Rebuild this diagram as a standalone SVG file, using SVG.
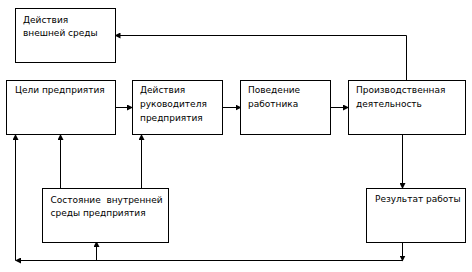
<svg xmlns="http://www.w3.org/2000/svg" width="472" height="272" viewBox="0 0 472 272">
<style>
rect.b{fill:#fff;stroke:#000;stroke-width:1}
text{font-family:"DejaVu Sans",Verdana,sans-serif;font-size:9px;fill:#000}
.c{fill:none;stroke:#000;stroke-width:1}
</style>
<defs>
<marker id="ah" markerWidth="6" markerHeight="6" refX="5" refY="3" orient="auto" markerUnits="userSpaceOnUse">
<path d="M0,0 L6,3 L0,6 Z" fill="#000"/>
</marker>
</defs>
<rect width="472" height="272" fill="#fff"/>
<g id="connectors">
<path class="c" d="M406.5,80 V35.5 H115.5" marker-end="url(#ah)"/>
<path class="c" d="M115.5,107.5 H132" marker-end="url(#ah)"/>
<path class="c" d="M222.5,107.5 H240.5" marker-end="url(#ah)"/>
<path class="c" d="M330.5,107.5 H348" marker-end="url(#ah)"/>
<path class="c" d="M402.5,134.5 V188" marker-end="url(#ah)"/>
<path class="c" d="M402.5,242 V260.5" marker-end="url(#ah)"/>
<path class="c" d="M402.5,260.5 H16" marker-end="url(#ah)"/>
<path class="c" d="M15.5,260.5 V135" marker-end="url(#ah)"/>
<path class="c" d="M96.5,260.5 V242" marker-end="url(#ah)"/>
<path class="c" d="M60.5,188 V135" marker-end="url(#ah)"/>
<path class="c" d="M141.5,188 V135" marker-end="url(#ah)"/>
</g>
<g id="n-vneshnyaya">
<rect class="b" x="15.5" y="8.5" width="100" height="54"/>
<text x="23" y="23">Действия</text>
<text x="23" y="36">внешней среды</text>
</g>
<g id="n-celi">
<rect class="b" x="6.5" y="80.5" width="109" height="54"/>
<text x="15" y="93">Цели предприятия</text>
</g>
<g id="n-rukovoditel">
<rect class="b" x="132.5" y="80.5" width="90" height="54"/>
<text x="140" y="93">Действия</text>
<text x="140" y="107">руководителя</text>
<text x="140" y="121">предприятия</text>
</g>
<g id="n-povedenie">
<rect class="b" x="240.5" y="80.5" width="90" height="54"/>
<text x="248" y="93">Поведение</text>
<text x="248" y="107">работника</text>
</g>
<g id="n-proizvodstvo">
<rect class="b" x="348.5" y="80.5" width="117" height="54"/>
<text x="356" y="93">Производственная</text>
<text x="356" y="107">деятельность</text>
</g>
<g id="n-sostoyanie">
<rect class="b" x="42.5" y="188.5" width="126" height="54"/>
<text x="50.5" y="203" xml:space="preserve">Состояние  внутренней</text>
<text x="50.5" y="216">среды предприятия</text>
</g>
<g id="n-rezultat">
<rect class="b" x="366.5" y="188.5" width="99" height="54"/>
<text x="375" y="202">Результат работы</text>
</g>
</svg>
